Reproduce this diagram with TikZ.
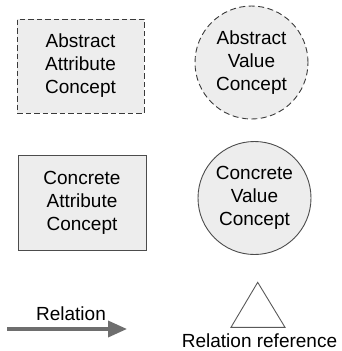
\documentclass[tikz,border=0pt]{standalone}
\usepackage{fontspec}
\setmainfont{Liberation Sans}
\usetikzlibrary{arrows.meta}
\definecolor{fillgray}{HTML}{EDEDED}
\definecolor{linegray}{HTML}{3A3A3A}
\definecolor{arrowgray}{HTML}{6E6E6E}
\begin{document}
\begin{tikzpicture}[x=1pt,y=-1pt,
  lbl/.style={font=\fontsize{19}{23}\selectfont, align=center, inner sep=0pt},
  attrbox/.style={lbl, draw=linegray, fill=fillgray, line width=0.9pt, rectangle},
  valcirc/.style={lbl, draw=linegray, fill=fillgray, line width=0.9pt, circle, minimum size=113pt},
  dashline/.style={dash pattern=on 5.5pt off 3pt}]
\useasboundingbox (0,0) rectangle (342,351);
\node[attrbox, dashline, minimum width=127pt, minimum height=94pt] (aac) at (80.5,66) {Abstract\\Attribute\\Concept};
\node[valcirc, dash pattern=on 6pt off 3.5pt] (avc) at (251.5,62.5) {Abstract\\Value\\Concept};
\node[attrbox, draw=black!70, minimum width=128pt, minimum height=95pt] (cac) at (82,202.5) {Concrete\\Attribute\\Concept};
\node[valcirc, draw=black!70] (cvc) at (254.5,198) {Concrete\\Value\\Concept};
\coordinate (as) at (7,329);
\coordinate (ae) at (127,329);
\draw[arrowgray, line width=3.5pt, -{Triangle[length=19pt,width=16pt]}] (as) -- (ae);
\node[lbl, anchor=base] (rel) at (71,320.7) {Relation};
\coordinate (t1) at (257.7,282.3);
\coordinate (t2) at (231,327.3);
\coordinate (t3) at (285,327.3);
\draw[black!65, line width=0.9pt, line join=miter] (t1) -- (t2) -- (t3) -- cycle;
\node[lbl, anchor=base] (relref) at (259.5,347.8) {Relation reference};
\end{tikzpicture}
\end{document}
